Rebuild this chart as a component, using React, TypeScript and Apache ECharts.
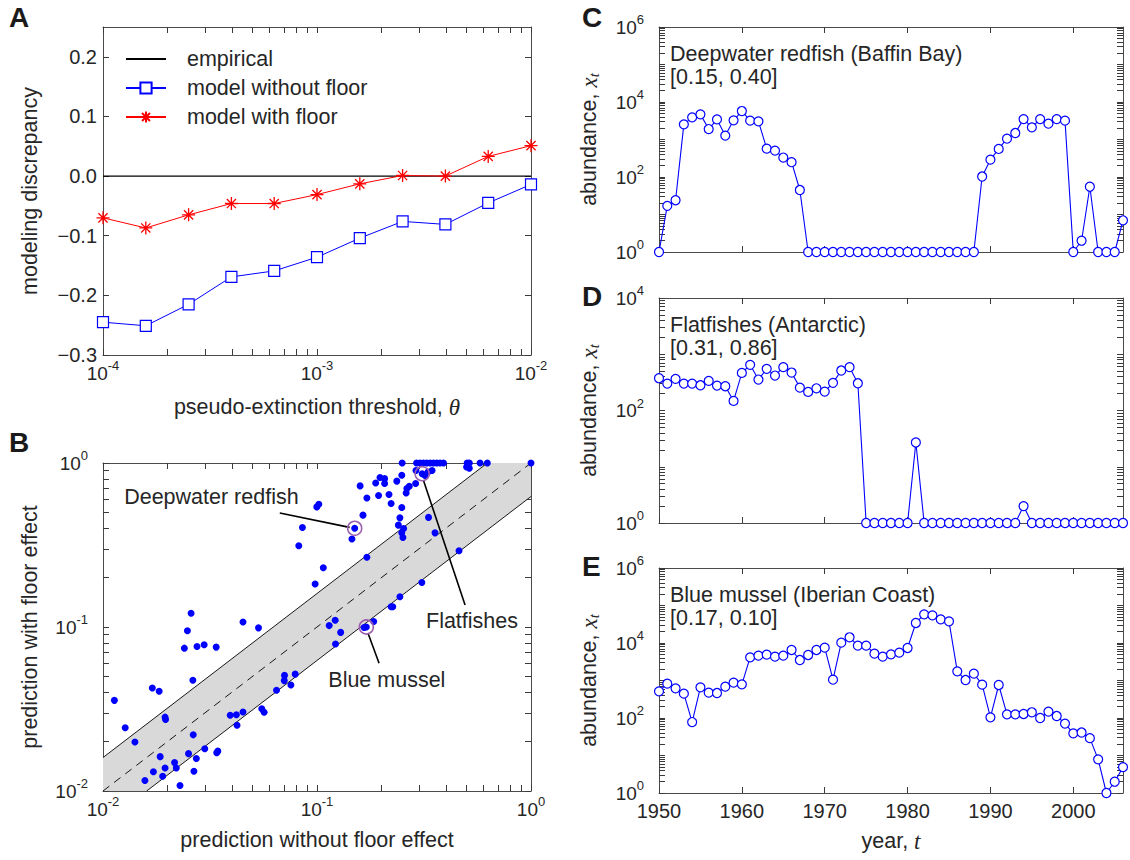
import React, { useEffect, useRef } from 'react';
import * as echarts from 'echarts';

// ---------- Panel A data ----------
const thetaValues = [1e-4, 1.585e-4, 2.512e-4, 3.981e-4, 6.31e-4, 1e-3, 1.585e-3, 2.512e-3, 3.981e-3, 6.31e-3, 1e-2];
const withoutFloor = [-0.245, -0.251, -0.215, -0.169, -0.159, -0.136, -0.104, -0.076, -0.081, -0.045, -0.014];
const withFloor = [-0.07, -0.087, -0.065, -0.046, -0.046, -0.031, -0.013, 0.001, 0.0, 0.033, 0.051];
const empiricalX = [1e-4, 1e-2];
const empiricalY = [0, 0];
const aYTicks = [-0.3, -0.2, -0.1, 0, 0.1, 0.2];

// ---------- Panel B data ----------
const scatterPoints: number[][] = [
  [0.25, 1], [0.292, 1], [0.303, 1], [0.314, 1], [0.326, 1], [0.338, 1], [0.35, 1], [0.363, 1], [0.376, 1], [0.39, 1],
  [0.503, 1], [0.515, 1], [0.578, 1], [0.625, 1], [1.0, 1],
  [0.5, 0.946], [0.515, 0.93],
  [0.29, 0.9], [0.31, 0.86], [0.33, 0.88], [0.32, 0.84], [0.345, 0.9],
  [0.249, 0.841], [0.197, 0.815], [0.207, 0.803], [0.188, 0.756], [0.207, 0.75], [0.236, 0.775], [0.159, 0.725],
  [0.289, 0.75], [0.27, 0.722], [0.263, 0.698], [0.261, 0.657], [0.194, 0.633], [0.217, 0.642], [0.171, 0.612],
  [0.222, 0.566], [0.249, 0.535], [0.0998, 0.54], [0.102, 0.561], [0.164, 0.481], [0.244, 0.463], [0.332, 0.466],
  [0.24, 0.418], [0.254, 0.399], [0.249, 0.375], [0.252, 0.351], [0.356, 0.375], [0.0855, 0.404], [0.15, 0.4],
  [0.1456, 0.344], [0.0822, 0.313], [0.461, 0.292], [0.171, 0.266], [0.107, 0.23], [0.098, 0.183], [0.309, 0.187],
  [0.244, 0.153], [0.222, 0.133], [0.226, 0.133], [0.1216, 0.11], [0.114, 0.102], [0.129, 0.0927], [0.122, 0.0787],
  [0.184, 0.108], [0.17, 0.1], [0.166, 0.0993],
  [0.0258, 0.1213], [0.0451, 0.1074], [0.0533, 0.0988], [0.0248, 0.0948], [0.024, 0.0743], [0.0275, 0.076],
  [0.0297, 0.078], [0.0338, 0.0754], [0.0705, 0.0507], [0.0703, 0.0471], [0.0791, 0.0516], [0.0755, 0.0443],
  [0.0647, 0.0411], [0.0263, 0.0473], [0.017, 0.0425], [0.0183, 0.0406], [0.0113, 0.0357], [0.0393, 0.029],
  [0.042, 0.0292], [0.0451, 0.0303], [0.0423, 0.0252], [0.0552, 0.0317], [0.0566, 0.0302], [0.0195, 0.0282],
  [0.0196, 0.0273], [0.0127, 0.0243], [0.0141, 0.0199], [0.0264, 0.022], [0.0251, 0.0169], [0.0185, 0.0162],
  [0.0299, 0.0181], [0.034, 0.0171], [0.0344, 0.0175], [0.0273, 0.0158], [0.0216, 0.0149], [0.022, 0.0138],
  [0.0195, 0.0138], [0.0172, 0.0131], [0.019, 0.0123], [0.0266, 0.0132], [0.0157, 0.0116], [0.0229, 0.0108],
];
const highlighted = [[0.15, 0.4], [0.31, 0.86], [0.17, 0.1]];
const bandUpper = [[0.01, 0.016], [0.625, 1]];
const bandLower = [[0.016, 0.01], [1, 0.625]];
const diagonal = [[0.01, 0.01], [1, 1]];
const bandPolygon = [[0.01, 0.016], [0.625, 1], [1, 1], [1, 0.625], [0.016, 0.01], [0.01, 0.01]];
const annotationNames = ['Deepwater redfish', 'Flatfishes', 'Blue mussel'];
const annotationAt = [[0.0321, 0.621], [0.53, 0.109], [0.212, 0.0476]];
const leaderLines = [
  [[0.067, 0.495], [0.142, 0.405]],
  [[0.314, 0.787], [0.492, 0.136]],
  [[0.173, 0.0918], [0.195, 0.0601]],
];

// ---------- Panels C, D, E data ----------
const years = [
  1950, 1951, 1952, 1953, 1954, 1955, 1956, 1957, 1958, 1959,
  1960, 1961, 1962, 1963, 1964, 1965, 1966, 1967, 1968, 1969,
  1970, 1971, 1972, 1973, 1974, 1975, 1976, 1977, 1978, 1979,
  1980, 1981, 1982, 1983, 1984, 1985, 1986, 1987, 1988, 1989,
  1990, 1991, 1992, 1993, 1994, 1995, 1996, 1997, 1998, 1999,
  2000, 2001, 2002, 2003, 2004, 2005, 2006,
];
const redfish = [
  1, 17, 24, 2540, 3900, 4680, 1900, 3440, 1270, 3240,
  5740, 3180, 3050, 570, 505, 330, 248, 45, 1, 1,
  1, 1, 1, 1, 1, 1, 1, 1, 1, 1,
  1, 1, 1, 1, 1, 1, 1, 1, 1, 103,
  290, 560, 1050, 1490, 3500, 2110, 3500, 2640, 3500, 3180,
  1, 2, 55, 1, 1, 1, 7,
];
const flatfishes = [
  375, 301, 365, 301, 301, 281, 336, 277, 270, 148,
  466, 648, 355, 550, 418, 589, 473, 255, 214, 248,
  217, 310, 514, 589, 305, 1, 1, 1, 1, 1,
  1, 27, 1, 1, 1, 1, 1, 1, 1, 1,
  1, 1, 1, 1, 2, 1, 1, 1, 1, 1,
  1, 1, 1, 1, 1, 1, 1,
];
const mussel = [
  514, 824, 618, 446, 78, 657, 474, 464, 685, 876,
  790, 4150, 4600, 4890, 4320, 4600, 6510, 3520, 4790, 6510,
  7510, 1050, 10200, 14200, 8490, 8490, 5200, 4320, 4990, 5520,
  7360, 34200, 58100, 54700, 42800, 37800, 1755, 1030, 1520, 774,
  104, 759, 125, 125, 128, 142, 100, 148, 113, 71,
  39, 41, 29, 7.9, 1, 2, 4.9,
];
const yearTicks = [1950, 1960, 1970, 1980, 1990, 2000];

// ---------- styling ----------
const FONT = '"Liberation Sans", Arial, Helvetica, sans-serif';
const SERIF = '"Liberation Serif", "DejaVu Serif", serif';
const TXT = '#262626';
const AX = '#4a4a4a';
const TK = '#3a3a3a';
const BLUE = '#0000ff';
const RED = '#ff0000';
const BIG = 21.5;
const TICK = 20;
const ASTERISK = 'path://M0,-10L0,10M-10,0L10,0M-7.07,-7.07L7.07,7.07M-7.07,7.07L7.07,-7.07';

function logTicks(e0: number, e1: number) {
  const out: number[] = [];
  for (let e = e0; e < e1; e++) {
    for (let k = 1; k < 10; k++) out.push(+(k * Math.pow(10, e)).toPrecision(6));
  }
  out.push(Math.pow(10, e1));
  return out;
}

const supRich = {
  b: { fontSize: 19, lineHeight: 28, fontFamily: FONT, color: TXT },
  s: { fontSize: 13, fontFamily: FONT, color: TXT, verticalAlign: 'top' },
};
const powFmt = (v: number) => `{b|10}{s|${Math.round(Math.log10(v))}}`;

function axis(o: any) {
  const base: any = {
    type: o.type,
    gridIndex: o.grid,
    min: o.min,
    max: o.max,
    position: o.position,
    axisLine: { show: true, onZero: false, lineStyle: { color: AX, width: 1 } },
    axisTick: { show: true, inside: true, length: 6, customValues: o.ticks, lineStyle: { color: TK, width: 1 } },
    axisLabel: { show: false },
    splitLine: { show: false },
    minorTick: { show: false },
    minorSplitLine: { show: false },
  };
  if (o.type === 'log') base.logBase = 10;
  if (o.labels) {
    base.axisLabel = {
      show: true,
      customValues: o.labels,
      formatter: o.formatter,
      margin: o.margin ?? 8,
      fontSize: TICK,
      fontFamily: FONT,
      color: TXT,
      rich: o.rich,
    };
  }
  if (o.name) {
    base.name = o.name;
    base.nameLocation = 'middle';
    base.nameGap = o.nameGap;
    base.nameTextStyle = { fontSize: BIG, fontFamily: FONT, color: TXT, rich: o.nameRich };
  }
  return base;
}

const nameRich = {
  n: { fontSize: BIG, fontFamily: FONT, color: TXT, lineHeight: 24 },
  i: { fontSize: 23, fontFamily: SERIF, fontStyle: 'italic', color: TXT, lineHeight: 24 },
  t: { fontSize: 15, fontFamily: SERIF, fontStyle: 'italic', color: TXT, verticalAlign: 'bottom' },
};

const minusFmt = (v: number) => {
  const s = Math.abs(v).toFixed(1);
  return v < -1e-9 ? '\u2212' + s : s;
};

function buildOption(): any {
  const grids = [
    { left: 103, top: 27, width: 428, height: 328 },
    { left: 103, top: 463, width: 428, height: 328 },
    { left: 659, top: 27, width: 464, height: 225 },
    { left: 659, top: 298, width: 464, height: 225 },
    { left: 659, top: 568, width: 464, height: 225 },
  ];
  const thetaTicks = logTicks(-4, -2);
  const bTicks = logTicks(-2, 0);
  const c6 = logTicks(0, 6);
  const c4 = logTicks(0, 4);
  const yearFmt = (v: number) => String(v);
  const abundName = '{n|abundance, }{i|x}{t|t}';

  const xAxis = [
    axis({ type: 'log', grid: 0, min: 1e-4, max: 1e-2, position: 'bottom', ticks: thetaTicks, labels: [1e-4, 1e-3, 1e-2], formatter: powFmt, rich: supRich, margin: 4,
      name: '{n|pseudo-extinction threshold, }{i|\u03b8}', nameGap: 40, nameRich }),
    axis({ type: 'log', grid: 0, min: 1e-4, max: 1e-2, position: 'top', ticks: thetaTicks }),
    axis({ type: 'log', grid: 1, min: 0.01, max: 1, position: 'bottom', ticks: bTicks, labels: [0.01, 0.1, 1], formatter: powFmt, rich: supRich, margin: 4,
      name: '{n|prediction without floor effect}', nameGap: 37, nameRich }),
    axis({ type: 'log', grid: 1, min: 0.01, max: 1, position: 'top', ticks: bTicks }),
    axis({ type: 'value', grid: 2, min: 1950, max: 2006, position: 'bottom', ticks: yearTicks }),
    axis({ type: 'value', grid: 2, min: 1950, max: 2006, position: 'top', ticks: yearTicks }),
    axis({ type: 'value', grid: 3, min: 1950, max: 2006, position: 'bottom', ticks: yearTicks }),
    axis({ type: 'value', grid: 3, min: 1950, max: 2006, position: 'top', ticks: yearTicks }),
    axis({ type: 'value', grid: 4, min: 1950, max: 2006, position: 'bottom', ticks: yearTicks, labels: yearTicks, formatter: yearFmt, margin: 8,
      name: '{n|year, }{i|t}', nameGap: 36, nameRich }),
    axis({ type: 'value', grid: 4, min: 1950, max: 2006, position: 'top', ticks: yearTicks }),
  ];
  const yAxis = [
    axis({ type: 'value', grid: 0, min: -0.3, max: 0.25, position: 'left', ticks: aYTicks, labels: aYTicks, formatter: minusFmt, margin: 6,
      name: '{n|modeling discrepancy}', nameGap: 61, nameRich }),
    axis({ type: 'value', grid: 0, min: -0.3, max: 0.25, position: 'right', ticks: aYTicks }),
    axis({ type: 'log', grid: 1, min: 0.01, max: 1, position: 'left', ticks: bTicks, labels: [0.01, 0.1, 1], formatter: powFmt, rich: supRich, margin: 15,
      name: '{n|prediction with floor effect}', nameGap: 61, nameRich }),
    axis({ type: 'log', grid: 1, min: 0.01, max: 1, position: 'right', ticks: bTicks }),
    axis({ type: 'log', grid: 2, min: 1, max: 1e6, position: 'left', ticks: c6, labels: [1, 100, 1e4, 1e6], formatter: powFmt, rich: supRich, margin: 15,
      name: abundName, nameGap: 58, nameRich }),
    axis({ type: 'log', grid: 2, min: 1, max: 1e6, position: 'right', ticks: c6 }),
    axis({ type: 'log', grid: 3, min: 1, max: 1e4, position: 'left', ticks: c4, labels: [1, 100, 1e4], formatter: powFmt, rich: supRich, margin: 15,
      name: abundName, nameGap: 58, nameRich }),
    axis({ type: 'log', grid: 3, min: 1, max: 1e4, position: 'right', ticks: c4 }),
    axis({ type: 'log', grid: 4, min: 1, max: 1e6, position: 'left', ticks: c6, labels: [1, 100, 1e4, 1e6], formatter: powFmt, rich: supRich, margin: 15,
      name: abundName, nameGap: 58, nameRich }),
    axis({ type: 'log', grid: 4, min: 1, max: 1e6, position: 'right', ticks: c6 }),
  ];

  const zip = (xs: number[], ys: number[]) => xs.map((x, i) => [x, ys[i]]);
  const tsSeries = (name: string, idx: number, vals: number[]) => ({
    name, type: 'line', xAxisIndex: idx, yAxisIndex: idx, data: zip(years, vals),
    symbol: 'circle', symbolSize: 9, showAllSymbol: true,
    itemStyle: { color: '#ffffff', borderColor: BLUE, borderWidth: 1.2, opacity: 1 },
    lineStyle: { color: BLUE, width: 1.1 }, z: 3,
  });
  const thinLine = (name: string, data: number[][], dashed = false) => ({
    name, type: 'line', xAxisIndex: 2, yAxisIndex: 2, data, symbol: 'none', silent: true,
    lineStyle: { color: '#000000', width: 0.9, type: dashed ? [8, 6] : 'solid' }, z: 2,
  });

  const series: any[] = [
    { name: 'empirical', type: 'line', xAxisIndex: 0, yAxisIndex: 0, data: zip(empiricalX, empiricalY), symbol: 'none',
      lineStyle: { color: '#000000', width: 1.4 }, itemStyle: { color: '#000000' }, z: 2 },
    { name: 'model without floor', type: 'line', xAxisIndex: 0, yAxisIndex: 0, data: zip(thetaValues, withoutFloor),
      symbol: 'rect', symbolSize: 11, itemStyle: { color: '#ffffff', borderColor: BLUE, borderWidth: 1.2 },
      lineStyle: { color: BLUE, width: 1 }, z: 3 },
    { name: 'model with floor', type: 'line', xAxisIndex: 0, yAxisIndex: 0, data: zip(thetaValues, withFloor),
      symbol: ASTERISK, symbolSize: 13, itemStyle: { color: RED, borderColor: RED, borderWidth: 1.3 },
      lineStyle: { color: RED, width: 1 }, z: 3 },
    { name: 'band', type: 'custom', xAxisIndex: 2, yAxisIndex: 2, data: [[0.1, 0.1]], silent: true, z: 1,
      renderItem: (_p: any, api: any) => ({
        type: 'polygon',
        shape: { points: bandPolygon.map((p) => api.coord(p)) },
        style: { fill: '#d9d9d9', stroke: 'none' },
      }) },
    thinLine('upper', bandUpper),
    thinLine('lower', bandLower),
    thinLine('diagonal', diagonal, true),
    { name: 'stocks', type: 'scatter', xAxisIndex: 2, yAxisIndex: 2, data: scatterPoints, symbolSize: 7,
      itemStyle: { color: BLUE, opacity: 1 }, z: 4 },
    { name: 'highlighted', type: 'scatter', xAxisIndex: 2, yAxisIndex: 2, data: highlighted, symbolSize: 14,
      itemStyle: { color: 'rgba(0,0,0,0)', borderColor: '#9d5fb0', borderWidth: 1.6, opacity: 1 }, z: 5 },
    ...leaderLines.map((seg, i) => ({
      name: 'leader' + i, type: 'line', xAxisIndex: 2, yAxisIndex: 2, data: seg, symbol: 'none', silent: true,
      lineStyle: { color: '#000000', width: 1.6 }, z: 5,
    })),
    { name: 'annotations', type: 'scatter', xAxisIndex: 2, yAxisIndex: 2, silent: true, z: 6,
      data: annotationNames.map((n, i) => ({ name: n, value: annotationAt[i] })),
      symbolSize: 1, itemStyle: { color: 'rgba(0,0,0,0)', opacity: 1 },
      label: { show: true, position: 'inside', formatter: '{b}', fontSize: BIG, fontFamily: FONT, color: TXT,
        textBorderWidth: 0, opacity: 1 } },
    tsSeries('Deepwater redfish (Baffin Bay)', 4, redfish),
    tsSeries('Flatfishes (Antarctic)', 6, flatfishes),
    tsSeries('Blue mussel (Iberian Coast)', 8, mussel),
  ];

  const letter = (t: string, left: number, top: number) => ({
    text: t, left, top, padding: 0,
    textStyle: { fontSize: 28, fontWeight: 'bold', fontFamily: FONT, color: '#1a1a1a' },
  });
  const inner = (t: string, left: number, top: number) => ({
    text: t, left, top, padding: 0,
    textStyle: { fontSize: BIG, fontWeight: 'normal', fontFamily: FONT, color: TXT, lineHeight: 23 },
  });

  return {
    animation: false,
    backgroundColor: '#ffffff',
    textStyle: { fontFamily: FONT },
    title: [
      letter('A', 9, 3),
      letter('B', 9, 428),
      letter('C', 582, 3),
      letter('D', 582, 282),
      letter('E', 582, 552),
      inner('Deepwater redfish (Baffin Bay)\n[0.15, 0.40]', 670, 42),
      inner('Flatfishes (Antarctic)\n[0.31, 0.86]', 670, 313),
      inner('Blue mussel (Iberian Coast)\n[0.17, 0.10]', 670, 583),
    ],
    legend: {
      data: [
        { name: 'empirical', itemStyle: { opacity: 0 } },
        { name: 'model without floor' },
        { name: 'model with floor' },
      ],
      orient: 'vertical', left: 120, top: 43, itemWidth: 40, itemHeight: 14, itemGap: 7,
      textStyle: { fontSize: BIG, fontFamily: FONT, color: TXT, padding: [0, 0, 0, 16] },
      selectedMode: false,
    },
    grid: grids,
    xAxis,
    yAxis,
    series,
  };
}

export default function App() {
  const ref = useRef<HTMLDivElement>(null);
  useEffect(() => {
    document.body.style.margin = '0';
    if (!ref.current) return;
    const chart = echarts.init(ref.current, undefined, { renderer: 'svg' });
    chart.setOption(buildOption());
    return () => chart.dispose();
  }, []);
  return <div ref={ref} style={{ width: 1130, height: 860, position: 'absolute', left: 0, top: 0 }} />;
}
